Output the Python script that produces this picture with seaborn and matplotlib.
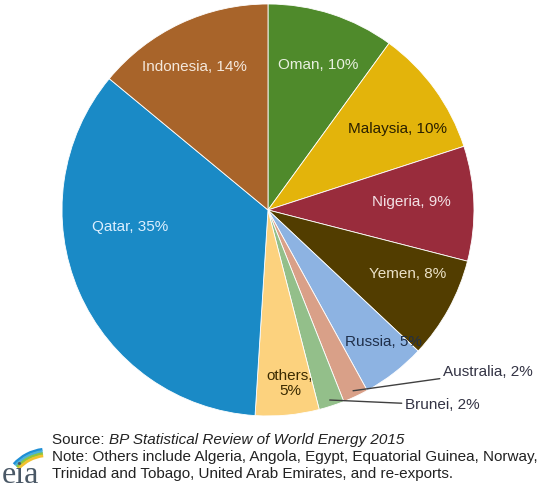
import numpy as np
import matplotlib.pyplot as plt
from matplotlib.patches import Arc
import seaborn as sns

# LNG export shares, clockwise from 12 o'clock
countries = ["Oman", "Malaysia", "Nigeria", "Yemen", "Russia", "Australia",
             "Brunei", "others", "Qatar", "Indonesia"]
shares = [10, 10, 9, 8, 5, 2, 2, 5, 35, 14]

colors = ["#4f8a2b", "#e3b40b", "#992c3c", "#523d00", "#8db3e2", "#d9a088",
          "#93bf8a", "#fcd27e", "#1a8ac6", "#a8642a"]
text_colors = ["#e8f0e0", "#2a2000", "#f2e0e4", "#ece2c8", "#1f2f4a", None,
               None, "#3a2a00", "#dcefff", "#f4e8dc"]
# label radius and angle nudge (deg) for the in-wedge labels
label_r = [0.745, 0.74, 0.695, 0.745, 0.85, 0, 0, 0.85, 0.675, 0.78]
label_da = [-1, -4, 1.5, 4, 3.5, 0, 0, 1.8, -16.4, 2]

sns.set_theme(style="white")
plt.rcParams['font.family'] = ['Liberation Sans', 'DejaVu Sans']

fig = plt.figure(figsize=(5.59, 4.97), dpi=100)
ax = fig.add_axes([0.1109, 0.163, 0.737, 0.829])

wedges, _ = ax.pie(shares, colors=colors, startangle=90, counterclock=False,
                   radius=1, wedgeprops=dict(linewidth=0.6, edgecolor="white"))
ax.set_xlim(-1, 1)
ax.set_ylim(-1, 1)
ax.set_aspect("equal")

for i, w in enumerate(wedges):
    if text_colors[i] is None:
        continue
    mid = np.deg2rad((w.theta1 + w.theta2) / 2 + label_da[i])
    x, y = label_r[i] * np.cos(mid), label_r[i] * np.sin(mid)
    name = countries[i]
    txt = f"{name},\n{shares[i]}%" if name == "others" else f"{name}, {shares[i]}%"
    ax.text(x, y, txt, ha="center", va="center", fontsize=11,
            color=text_colors[i], linespacing=1.05)

# callouts for the two small slices
for i, tx, ty in [(5, 0.85, -0.786), (6, 0.665, -0.947)]:
    w = wedges[i]
    mid = np.deg2rad((w.theta1 + w.theta2) / 2)
    px, py = 0.97 * np.cos(mid), 0.97 * np.sin(mid)
    ax.annotate(f"{countries[i]}, {shares[i]}%", xy=(px, py),
                xytext=(tx, ty), fontsize=11, color="#333344",
                ha="left", va="center", annotation_clip=False,
                arrowprops=dict(arrowstyle="-", color="#404040", lw=1.0,
                                shrinkA=0, shrinkB=0))

# footer
fs = 11
src = fig.text(0.093, 0.115, "Source: ", fontsize=fs, color="#222222", va="center")
fig.canvas.draw()
bb = src.get_window_extent().transformed(fig.transFigure.inverted())
fig.text(bb.x1, 0.115, "BP Statistical Review of World Energy 2015",
         fontsize=fs, color="#222222", style="italic", va="center")
fig.text(0.093, 0.0805, "Note: Others include Algeria, Angola, Egypt, Equatorial Guinea, Norway,",
         fontsize=fs, color="#222222", va="center")
fig.text(0.093, 0.046, "Trinidad and Tobago, United Arab Emirates, and re-exports.",
         fontsize=fs, color="#222222", va="center")

# eia logo
fig.text(0.004, 0.044, "eia", fontsize=23, color="#4a5866",
         family="Liberation Serif", va="center")
lax = fig.add_axes([10 / 559, 32 / 497, 35 / 559, 20 / 497])
lax.set_xlim(0, 35)
lax.set_ylim(0, 20)
lax.set_aspect("equal")
lax.axis("off")
for k, c in enumerate(["#1e8fd6", "#4db3d9", "#8cc63f", "#f2c12e"]):
    r = 46 - 2.2 * k
    lax.add_patch(Arc((38, -30), 2 * r, 2 * r, theta1=97, theta2=138,
                      color=c, lw=2.0, clip_on=False))

fig.savefig("out.png", dpi=100, facecolor="white")
